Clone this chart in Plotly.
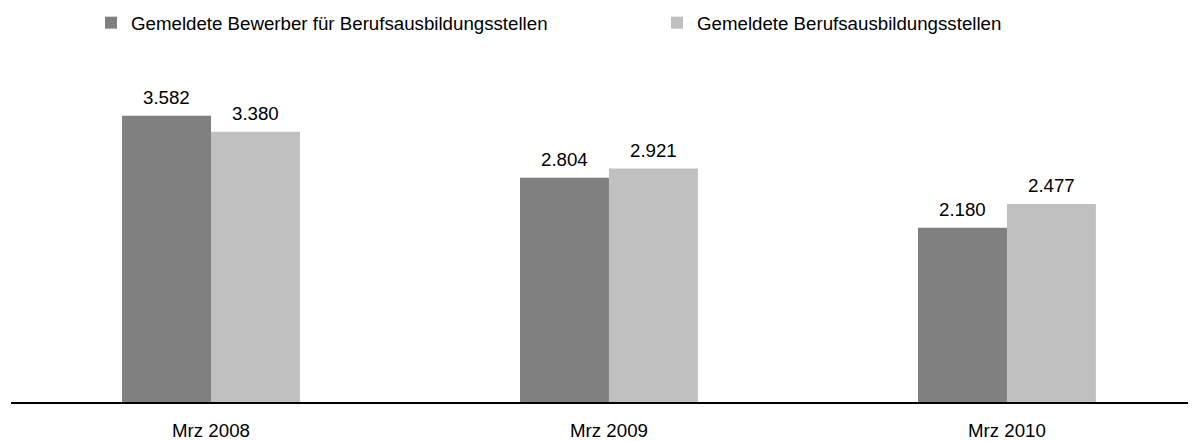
import plotly.graph_objects as go

categories = ["Mrz 2008", "Mrz 2009", "Mrz 2010"]
bewerber = [3582, 2804, 2180]
stellen = [3380, 2921, 2477]
series_names = ["Gemeldete Bewerber für Berufsausbildungsstellen", "Gemeldete Berufsausbildungsstellen"]

FONT = "Liberation Sans, Arial, sans-serif"
FS = 18.7
W, H = 1188, 433  # page body has an 8px default margin

fig = go.Figure()
fig.add_trace(go.Bar(x=categories, y=bewerber, name=series_names[0],
                     marker=dict(color="#808080", line=dict(width=0))))
fig.add_trace(go.Bar(x=categories, y=stellen, name=series_names[1],
                     marker=dict(color="#c0c0c0", line=dict(width=0))))

annotations = []
for series, shift in ((bewerber, -44.5), (stellen, 44.5)):
    for cat, val in zip(categories, series):
        annotations.append(dict(x=cat, y=val, xref="x", yref="y", text=f"{val:,}".replace(",", "."),
                                showarrow=False, xshift=shift, yshift=6, yanchor="bottom",
                                font=dict(family=FONT, size=FS, color="#000000")))

fig.update_layout(
    width=W, height=H,
    margin=dict(l=3, r=0, t=52, b=37),
    paper_bgcolor="white", plot_bgcolor="white",
    separators=",.",
    barmode="group", bargap=0.553, bargroupgap=0,
    font=dict(family=FONT, size=FS, color="#000000"),
    showlegend=True,
    annotations=annotations,
    legend=dict(orientation="h", xref="container", yref="container",
                x=83/W, xanchor="left", y=1 - 15/H, yanchor="middle",
                entrywidth=521, entrywidthmode="pixels",
                font=dict(size=FS, color="#000000"), bgcolor="rgba(0,0,0,0)"),
    xaxis=dict(range=[-0.5025, 2.475], showline=True, linecolor="#000000", linewidth=2,
               showgrid=False, zeroline=False, ticks="", ticklabelstandoff=11,
               tickfont=dict(size=FS, color="#000000")),
    yaxis=dict(range=[0, 344/0.0804], visible=False, showgrid=False, zeroline=False),
)

fig.write_html("out.html")
